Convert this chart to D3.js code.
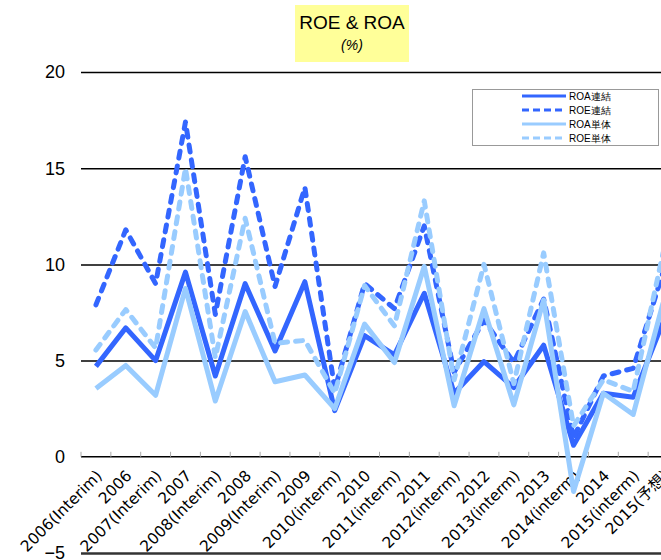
<!DOCTYPE html>
<html><head><meta charset="utf-8">
<script src="https://cdn.jsdelivr.net/npm/d3@7"></script>
<style>body{margin:0;background:#fff;}svg{display:block;font-family:"Liberation Sans",Arial,sans-serif;}</style>
</head><body>
<script>
const categories = ["2006(Interim)","2006","2007(Interim)","2007","2008(Interim)","2008","2009(Interim)","2009","2010(interm)","2010","2011(interm)","2011","2012(interm)","2012","2013(interm)","2013","2014(interm)","2014","2015(interm)","2015(予想)"];
const roaConsolidated = [4.7, 6.7, 5.0, 9.6, 4.2, 9.0, 5.5, 9.1, 2.4, 6.3, 5.3, 8.5, 3.3, 4.95, 3.6, 5.8, 0.6, 3.3, 3.1, 7.0];
const roeConsolidated = [7.9, 11.8, 9.0, 17.4, 7.4, 15.6, 8.85, 14.0, 3.5, 9.0, 7.7, 12.0, 4.4, 7.1, 4.9, 8.2, 1.0, 4.2, 4.6, 9.6];
const roaStandalone = [3.55, 4.75, 3.2, 8.75, 2.9, 7.55, 3.9, 4.25, 2.5, 6.9, 4.9, 9.9, 2.65, 7.7, 2.7, 8.15, -1.8, 3.3, 2.2, 8.0];
const roeStandalone = [5.55, 7.65, 5.65, 15.0, 5.15, 12.4, 5.9, 6.05, 3.3, 8.9, 6.8, 13.3, 4.0, 10.0, 3.8, 10.6, 1.6, 4.0, 3.4, 10.6];
const yTicks = [-5, 0, 5, 10, 15, 20];
const seriesNames = ["ROA連結", "ROE連結", "ROA単体", "ROE単体"];

const W = 661, H = 560;
const svg = d3.select("body").append("svg").attr("width", W).attr("height", H);

const x = d3.scaleBand().domain(categories).range([81, 81 + 20 * 29.85]);
const y = d3.scaleLinear().domain([-5, 20]).range([553, 72]);
const cx = c => x(c) + x.bandwidth() / 2;

// gridlines
const gridAxis = d3.axisLeft(y).tickValues(yTicks.filter(v => v !== 0)).tickSize(-(W - 81)).tickFormat("");
const grid = svg.append("g").attr("transform", "translate(81,0)").call(gridAxis);
grid.select(".domain").remove();
grid.selectAll(".tick line").attr("stroke", "#000").attr("stroke-width", 1.5);
grid.selectAll(".tick").filter(d => d === -5).select("line").attr("stroke-width", 2.5).attr("stroke", "#333");

// y labels
svg.append("g").selectAll("text").data(yTicks).join("text")
  .attr("x", 65).attr("y", d => y(d)).attr("dy", "0.36em")
  .attr("text-anchor", "end").attr("font-size", 18).attr("fill", "#000")
  .text(d => d < 0 ? "−" + Math.abs(d) : d);

// x axis at 0
const xAxisG = svg.append("g").attr("transform", `translate(0,${y(0)})`);
xAxisG.append("line").attr("x1", 81).attr("x2", W).attr("stroke", "#000").attr("stroke-width", 1.5);
xAxisG.selectAll("line.tk").data(categories).join("line").attr("class", "tk")
  .attr("x1", d => x(d)).attr("x2", d => x(d)).attr("y1", -5).attr("y2", 0)
  .attr("stroke", "#aaa").attr("stroke-width", 1);

// x labels
svg.append("g").selectAll("text").data(categories).join("text")
  .attr("transform", d => `translate(${cx(d) + 7},${y(0) + 20}) rotate(-45)`)
  .attr("text-anchor", "end").attr("font-size", 15.5).attr("fill", "#000")
  .attr("font-family", "'DejaVu Sans','Noto Sans CJK JP',sans-serif")
  .text(d => d);

// lines
const dark = "#3366ff", light = "#99ccff";
const series = [
  {name: seriesNames[0], values: roaConsolidated, color: dark, dash: null},
  {name: seriesNames[1], values: roeConsolidated, color: dark, dash: "7,8"},
  {name: seriesNames[2], values: roaStandalone, color: light, dash: null},
  {name: seriesNames[3], values: roeStandalone, color: light, dash: "7,8"}
];
const line = d3.line().x((d, i) => cx(categories[i])).y(d => y(d));
svg.append("g").selectAll("path").data(series).join("path")
  .attr("d", s => line(s.values))
  .attr("fill", "none").attr("stroke", s => s.color).attr("stroke-width", 5)
  .attr("stroke-linejoin", "round")
  .attr("stroke-linecap", s => s.dash ? "round" : "butt")
  .attr("stroke-dasharray", s => s.dash);

// title
svg.append("rect").attr("x", 295).attr("y", 5).attr("width", 114).attr("height", 57).attr("fill", "#ffff99");
svg.append("text").attr("x", 352).attr("y", 29).attr("text-anchor", "middle").attr("font-size", 19).text("ROE & ROA");
svg.append("text").attr("x", 352).attr("y", 50).attr("text-anchor", "middle").attr("font-size", 14).attr("font-style", "italic").text("(%)");

// legend
const lg = svg.append("g");
lg.append("rect").attr("x", 472.5).attr("y", 89.5).attr("width", 186).attr("height", 56)
  .attr("fill", "#fff").attr("stroke", "#999").attr("stroke-width", 1);
const rowY = [96, 110, 124, 138];
series.forEach((s, i) => {
  lg.append("line").attr("x1", 522).attr("x2", 566).attr("y1", rowY[i]).attr("y2", rowY[i])
    .attr("stroke", s.color).attr("stroke-width", 3).attr("stroke-dasharray", s.dash ? "7,4" : null);
  lg.append("text").attr("x", 569).attr("y", rowY[i]).attr("dy", "0.35em").attr("font-size", 10).text(s.name);
});
</script>
</body></html>
